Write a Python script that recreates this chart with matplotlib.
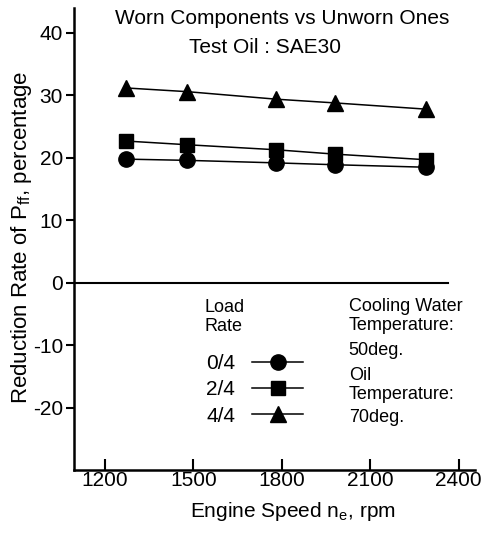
import numpy as np
import matplotlib
matplotlib.use('Agg')
import matplotlib.pyplot as plt

plt.rcParams['font.family'] = ['Liberation Sans', 'DejaVu Sans']
plt.rcParams['mathtext.fontset'] = 'custom'
plt.rcParams['mathtext.rm'] = 'Liberation Sans'
plt.rcParams['axes.unicode_minus'] = False

# engine speed (rpm) and reduction rate (%) per load rate
speed = [1270, 1480, 1780, 1980, 2290]
load_0 = [19.8, 19.6, 19.2, 18.9, 18.5]
load_2 = [22.7, 22.1, 21.3, 20.6, 19.7]
load_4 = [31.2, 30.6, 29.4, 28.8, 27.8]
load_labels = ['0/4', '2/4', '4/4']
xticks = [1200, 1500, 1800, 2100, 2400]
yticks = [-20, -10, 0, 10, 20, 30, 40]

fig = plt.figure(figsize=(4.87, 5.33), dpi=100)
ax = fig.add_axes([0.152, 0.118, 0.823, 0.867])

l0, = ax.plot(speed, load_0, color='black', lw=1.1, marker='o', ms=11)
l2, = ax.plot(speed, load_2, color='black', lw=1.1, marker='s', ms=10)
l4, = ax.plot(speed, load_4, color='black', lw=1.1, marker='^', ms=12)

ax.plot([1095, 2363], [0, 0], color='black', lw=1.5)

ax.set_xlim(1095, 2455)
ax.set_ylim(-30, 44)
ax.set_xticks(xticks)
ax.set_yticks(yticks)
ax.tick_params(axis='x', direction='in', length=8, width=1.5, labelsize=15, pad=1)
ax.tick_params(axis='y', direction='out', length=6, width=1.5, labelsize=15, pad=2)
for s in ['top', 'right']:
    ax.spines[s].set_visible(False)
ax.spines['left'].set_linewidth(1.8)
ax.spines['bottom'].set_linewidth(1.8)

ax.set_xlabel(r'Engine Speed n$_\mathregular{e}$, rpm', fontsize=15)
ax.xaxis.set_label_coords(0.546, -0.065)
ax.set_ylabel(r'Reduction Rate of P$_\mathregular{ff}$, percentage', fontsize=16)
ax.yaxis.set_label_coords(-0.1, 0.504)

fig.text(0.579, 0.966, 'Worn Components vs Unworn Ones', ha='center', va='center', fontsize=15)
fig.text(0.544, 0.91, 'Test Oil : SAE30', ha='center', va='center', fontsize=15)

fig.text(0.419, 0.405, 'Load\nRate', ha='left', va='center', fontsize=13, linespacing=1.15)
leg = ax.legend([l0, l2, l4], load_labels, loc='upper left',
                bbox_to_anchor=(0.402, 0.355), bbox_transform=fig.transFigure,
                markerfirst=False, frameon=False, handlelength=2.45,
                prop={'size': 15},
                labelspacing=0.35, handletextpad=0.8, borderpad=0)

fig.text(0.716, 0.408, 'Cooling Water\nTemperature:', ha='left', va='center', fontsize=13,
         linespacing=1.15)
fig.text(0.716, 0.342, '50deg.', ha='left', va='center', fontsize=13)
fig.text(0.716, 0.277, 'Oil\nTemperature:', ha='left', va='center', fontsize=13, linespacing=1.15)
fig.text(0.716, 0.217, '70deg.', ha='left', va='center', fontsize=13)

fig.savefig('out.png', dpi=100)
